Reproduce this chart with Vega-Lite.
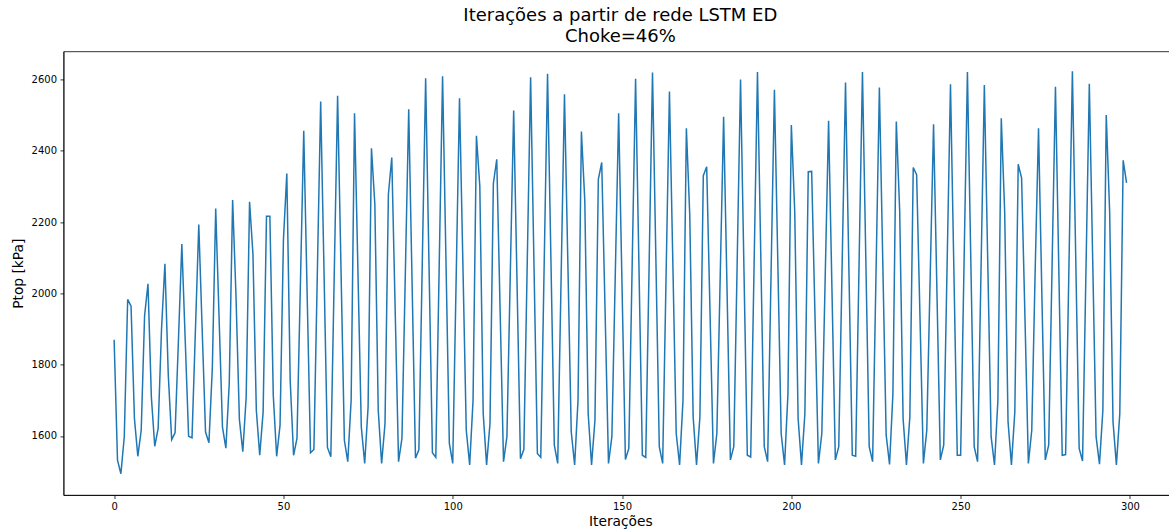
{
  "$schema": "https://vega.github.io/schema/vega-lite/v6.json",
  "autosize": {"type": "none"},
  "padding": {"left": 63.5, "top": 51.4, "right": 0, "bottom": 34},
  "width": 1113.7,
  "height": 443.6,
  "background": "white",
  "title": {
    "text": ["Iterações a partir de rede LSTM ED", "Choke=46%"],
    "font": "DejaVu Sans",
    "fontSize": 18,
    "fontWeight": "normal",
    "color": "#000",
    "anchor": "middle",
    "lineHeight": 21,
    "offset": 5
  },
  "config": {
    "view": {"stroke": "#000", "strokeWidth": 0.8},
    "axis": {
      "grid": false,
      "labelFont": "DejaVu Sans",
      "labelFontSize": 10,
      "labelColor": "#000",
      "tickColor": "#000",
      "tickSize": 3.5,
      "tickWidth": 0.8,
      "domainColor": "#000",
      "domainWidth": 0.8,
      "titleFont": "DejaVu Sans",
      "titleFontSize": 13.8,
      "titleFontWeight": "normal",
      "titleColor": "#000"
    }
  },
  "data": {"values": [
{"i":0,"p":1870},{"i":1,"p":1532},{"i":2,"p":1494},{"i":3,"p":1598},{"i":4,"p":1983},{"i":5,"p":1964},{"i":6,"p":1649},{"i":7,"p":1543},{"i":8,"p":1616},{"i":9,"p":1938},
{"i":10,"p":2027},{"i":11,"p":1709},{"i":12,"p":1571},{"i":13,"p":1621},{"i":14,"p":1900},{"i":15,"p":2083},{"i":16,"p":1770},{"i":17,"p":1590},{"i":18,"p":1609},{"i":19,"p":1870},
{"i":20,"p":2138},{"i":21,"p":1868},{"i":22,"p":1599},{"i":23,"p":1595},{"i":24,"p":1894},{"i":25,"p":2193},{"i":26,"p":1900},{"i":27,"p":1611},{"i":28,"p":1581},{"i":29,"p":1790},
{"i":30,"p":2238},{"i":31,"p":1930},{"i":32,"p":1625},{"i":33,"p":1566},{"i":34,"p":1747},{"i":35,"p":2262},{"i":36,"p":1990},{"i":37,"p":1646},{"i":38,"p":1556},{"i":39,"p":1709},
{"i":40,"p":2257},{"i":41,"p":2110},{"i":42,"p":1672},{"i":43,"p":1546},{"i":44,"p":1667},{"i":45,"p":2216},{"i":46,"p":2216},{"i":47,"p":1714},{"i":48,"p":1543},{"i":49,"p":1630},
{"i":50,"p":2150},{"i":51,"p":2336},{"i":52,"p":1756},{"i":53,"p":1546},{"i":54,"p":1593},{"i":55,"p":2020},{"i":56,"p":2456},{"i":57,"p":2000},{"i":58,"p":1553},{"i":59,"p":1562},
{"i":60,"p":2050},{"i":61,"p":2538},{"i":62,"p":2055},{"i":63,"p":1568},{"i":64,"p":1542},{"i":65,"p":2048},{"i":66,"p":2554},{"i":67,"p":2070},{"i":68,"p":1588},{"i":69,"p":1528},
{"i":70,"p":1700},{"i":71,"p":2505},{"i":72,"p":2065},{"i":73,"p":1625},{"i":74,"p":1523},{"i":75,"p":1681},{"i":76,"p":2407},{"i":77,"p":2250},{"i":78,"p":1672},{"i":79,"p":1523},
{"i":80,"p":1635},{"i":81,"p":2278},{"i":82,"p":2381},{"i":83,"p":1955},{"i":84,"p":1528},{"i":85,"p":1593},{"i":86,"p":2055},{"i":87,"p":2516},{"i":88,"p":2027},{"i":89,"p":1538},
{"i":90,"p":1561},{"i":91,"p":2082},{"i":92,"p":2603},{"i":93,"p":2078},{"i":94,"p":1553},{"i":95,"p":1540},{"i":96,"p":2075},{"i":97,"p":2609},{"i":98,"p":2094},{"i":99,"p":1579},
{"i":100,"p":1523},{"i":101,"p":2035},{"i":102,"p":2547},{"i":103,"p":2082},{"i":104,"p":1616},{"i":105,"p":1519},{"i":106,"p":1700},{"i":107,"p":2442},{"i":108,"p":2300},{"i":109,"p":1663},
{"i":110,"p":1519},{"i":111,"p":1635},{"i":112,"p":2308},{"i":113,"p":2376},{"i":114,"p":1950},{"i":115,"p":1528},{"i":116,"p":1598},{"i":117,"p":2055},{"i":118,"p":2513},{"i":119,"p":2025},
{"i":120,"p":1536},{"i":121,"p":1562},{"i":122,"p":2084},{"i":123,"p":2606},{"i":124,"p":2078},{"i":125,"p":1551},{"i":126,"p":1540},{"i":127,"p":2078},{"i":128,"p":2616},{"i":129,"p":2095},
{"i":130,"p":1574},{"i":131,"p":1523},{"i":132,"p":2040},{"i":133,"p":2558},{"i":134,"p":2085},{"i":135,"p":1612},{"i":136,"p":1519},{"i":137,"p":1700},{"i":138,"p":2454},{"i":139,"p":2260},
{"i":140,"p":1663},{"i":141,"p":1519},{"i":142,"p":1644},{"i":143,"p":2320},{"i":144,"p":2367},{"i":145,"p":1948},{"i":146,"p":1523},{"i":147,"p":1598},{"i":148,"p":2050},{"i":149,"p":2505},
{"i":150,"p":2020},{"i":151,"p":1534},{"i":152,"p":1565},{"i":153,"p":2083},{"i":154,"p":2602},{"i":155,"p":2074},{"i":156,"p":1546},{"i":157,"p":1540},{"i":158,"p":2080},{"i":159,"p":2619},
{"i":160,"p":2095},{"i":161,"p":1570},{"i":162,"p":1523},{"i":163,"p":2045},{"i":164,"p":2566},{"i":165,"p":2087},{"i":166,"p":1607},{"i":167,"p":1519},{"i":168,"p":1700},{"i":169,"p":2463},
{"i":170,"p":2220},{"i":171,"p":1654},{"i":172,"p":1519},{"i":173,"p":1654},{"i":174,"p":2330},{"i":175,"p":2355},{"i":176,"p":1940},{"i":177,"p":1523},{"i":178,"p":1607},{"i":179,"p":2050},
{"i":180,"p":2495},{"i":181,"p":2015},{"i":182,"p":1533},{"i":183,"p":1570},{"i":184,"p":2085},{"i":185,"p":2600},{"i":186,"p":2070},{"i":187,"p":1546},{"i":188,"p":1541},{"i":189,"p":2081},
{"i":190,"p":2621},{"i":191,"p":2095},{"i":192,"p":1570},{"i":193,"p":1528},{"i":194,"p":2050},{"i":195,"p":2571},{"i":196,"p":2090},{"i":197,"p":1607},{"i":198,"p":1519},{"i":199,"p":1719},
{"i":200,"p":2472},{"i":201,"p":2230},{"i":202,"p":1649},{"i":203,"p":1519},{"i":204,"p":1663},{"i":205,"p":2341},{"i":206,"p":2342},{"i":207,"p":1930},{"i":208,"p":1523},{"i":209,"p":1607},
{"i":210,"p":2045},{"i":211,"p":2484},{"i":212,"p":2008},{"i":213,"p":1533},{"i":214,"p":1570},{"i":215,"p":2080},{"i":216,"p":2591},{"i":217,"p":2068},{"i":218,"p":1546},{"i":219,"p":1543},
{"i":220,"p":2082},{"i":221,"p":2621},{"i":222,"p":2095},{"i":223,"p":1570},{"i":224,"p":1528},{"i":225,"p":2052},{"i":226,"p":2577},{"i":227,"p":2090},{"i":228,"p":1603},{"i":229,"p":1520},
{"i":230,"p":1719},{"i":231,"p":2482},{"i":232,"p":2230},{"i":233,"p":1649},{"i":234,"p":1519},{"i":235,"p":1654},{"i":236,"p":2353},{"i":237,"p":2333},{"i":238,"p":1930},{"i":239,"p":1523},
{"i":240,"p":1616},{"i":241,"p":2045},{"i":242,"p":2474},{"i":243,"p":2003},{"i":244,"p":1533},{"i":245,"p":1574},{"i":246,"p":2080},{"i":247,"p":2586},{"i":248,"p":2066},{"i":249,"p":1546},
{"i":250,"p":1546},{"i":251,"p":2083},{"i":252,"p":2621},{"i":253,"p":2095},{"i":254,"p":1570},{"i":255,"p":1528},{"i":256,"p":2056},{"i":257,"p":2584},{"i":258,"p":2091},{"i":259,"p":1598},
{"i":260,"p":1519},{"i":261,"p":1700},{"i":262,"p":2491},{"i":263,"p":2230},{"i":264,"p":1640},{"i":265,"p":1519},{"i":266,"p":1668},{"i":267,"p":2362},{"i":268,"p":2323},{"i":269,"p":1930},
{"i":270,"p":1523},{"i":271,"p":1616},{"i":272,"p":2060},{"i":273,"p":2463},{"i":274,"p":1990},{"i":275,"p":1533},{"i":276,"p":1574},{"i":277,"p":2076},{"i":278,"p":2579},{"i":279,"p":2063},
{"i":280,"p":1546},{"i":281,"p":1548},{"i":282,"p":2085},{"i":283,"p":2623},{"i":284,"p":2094},{"i":285,"p":1565},{"i":286,"p":1530},{"i":287,"p":2059},{"i":288,"p":2588},{"i":289,"p":2093},
{"i":290,"p":1598},{"i":291,"p":1521},{"i":292,"p":1672},{"i":293,"p":2500},{"i":294,"p":2230},{"i":295,"p":1640},{"i":296,"p":1519},{"i":297,"p":1663},{"i":298,"p":2373},{"i":299,"p":2310}
  ]},
  "mark": {"type": "line", "color": "#1f77b4", "strokeWidth": 1.5, "clip": true},
  "encoding": {
    "x": {
      "field": "i", "type": "quantitative",
      "scale": {"domain": [-14.95, 313.95], "nice": false, "zero": false},
      "axis": {"values": [0, 50, 100, 150, 200, 250, 300], "format": "d", "title": "Iterações", "labelPadding": 3.5, "titlePadding": 3, "labelFlush": false}
    },
    "y": {
      "field": "p", "type": "quantitative",
      "scale": {"domain": [1434.5, 2678.5], "nice": false, "zero": false},
      "axis": {"values": [1600, 1800, 2000, 2200, 2400, 2600], "format": "d", "title": "Ptop [kPa]", "labelPadding": 3.5, "titlePadding": 6, "labelFlush": false}
    }
  }
}
